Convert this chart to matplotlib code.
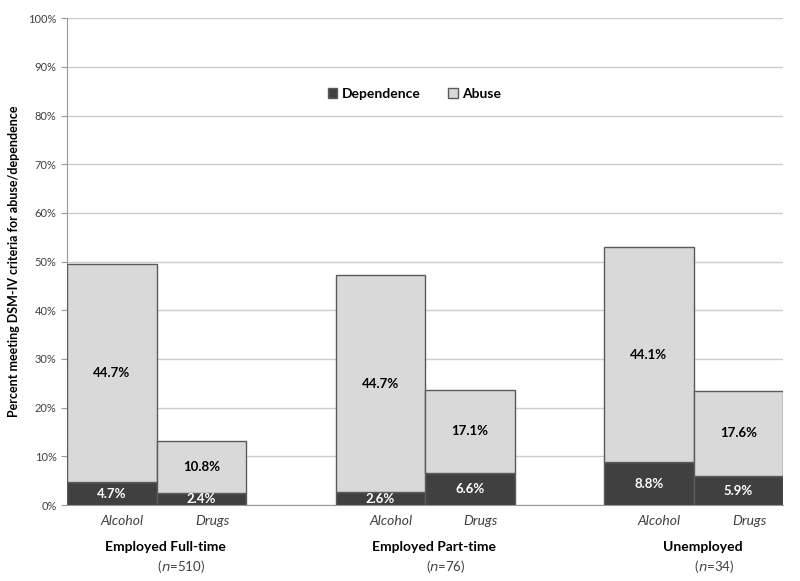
import matplotlib.pyplot as plt
import matplotlib.transforms as mtransforms
from matplotlib.patches import Patch

plt.rcParams['font.family'] = ['Lato', 'DejaVu Sans']

groups = ["Employed Full-time", "Employed Part-time", "Unemployed"]
group_n = ["510", "76", "34"]
substances = ["Alcohol", "Drugs"]
dependence = [4.7, 2.4, 2.6, 6.6, 8.8, 5.9]
abuse = [44.7, 10.8, 44.7, 17.1, 44.1, 17.6]
yticks = list(range(0, 101, 10))

dark = "#404040"
light = "#d9d9d9"
edge = "#5a5a5a"

fig = plt.figure(figsize=(8, 5.81), dpi=100)
ax = fig.add_axes([0.08375, 0.1308, 0.895, 0.838])

lefts = []
for g in range(len(groups)):
    for b in range(len(substances)):
        lefts.append(g * 3 + b)
centers = [x + 0.5 for x in lefts]

ax.bar(lefts, dependence, width=1, align="edge", color=dark, edgecolor=edge, linewidth=1, zorder=3)
ax.bar(lefts, abuse, width=1, align="edge", bottom=dependence, color=light, edgecolor=edge, linewidth=1, zorder=3)

for c, d, a in zip(centers, dependence, abuse):
    ax.text(c, d / 2, f"{d}%", ha="center", va="center", color="white", fontsize=9.5, fontweight="bold", zorder=4)
    ax.text(c, d + a / 2, f"{a}%", ha="center", va="center", color="black", fontsize=9.5, fontweight="bold", zorder=4)

ax.set_xlim(0, 8)
ax.set_ylim(0, 100)
ax.set_yticks(yticks)
ax.set_yticklabels([f"{t}%" for t in yticks], fontsize=8, color="#404040")
ax.yaxis.grid(True, color="#cccccc", linewidth=1, zorder=0)
ax.set_xticks([])
ax.tick_params(axis="y", length=4, color="#999999")
for s in ["top", "right"]:
    ax.spines[s].set_visible(False)
ax.spines["left"].set_color("#999999")
ax.spines["bottom"].set_color("#999999")

ax.set_ylabel("Percent meeting DSM-IV criteria for abuse/dependence", fontsize=9, fontweight="bold", labelpad=6)

trans = mtransforms.blended_transform_factory(ax.transData, ax.transAxes)
for i, c in enumerate(centers):
    ax.text(c + 0.12, -0.032, substances[i % 2], transform=trans, ha="center", va="center",
            style="italic", fontsize=10, color="#404040")
for g, name in enumerate(groups):
    gc = g * 3 + 1 + 0.1
    ax.text(gc, -0.087, name, transform=trans, ha="center", va="center", fontsize=10, fontweight="bold")
    ax.text(gc - 0.05, -0.127, "(", transform=trans, ha="right", va="center", fontsize=9.5, color="#404040")
    ax.text(gc - 0.05, -0.127, f"$\\it{{n}}$={group_n[g]})", transform=trans, ha="left", va="center",
            fontsize=9.5, color="#404040")

handles = [Patch(facecolor=dark, edgecolor=edge), Patch(facecolor=light, edgecolor=edge)]
ax.legend(handles, ["Dependence", "Abuse"], loc="center", bbox_to_anchor=(0.485, 0.845), ncol=2, frameon=False,
          prop={"weight": "bold", "size": 10}, handlelength=0.7, handleheight=0.7, columnspacing=2, handletextpad=0.3)

fig.savefig("out.png", dpi=100)
